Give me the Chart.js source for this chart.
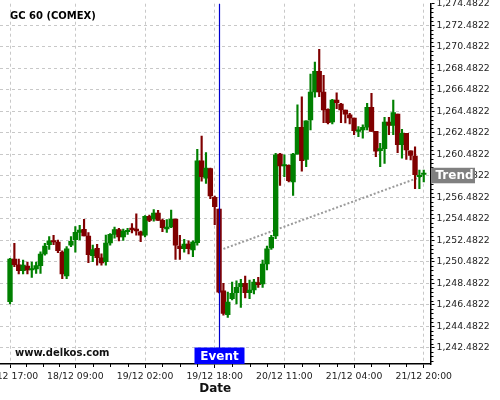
<!DOCTYPE html>
<html>
<head>
<meta charset="utf-8">
<script src="https://cdn.jsdelivr.net/npm/chart.js@4.4.1/dist/chart.umd.min.js"></script>
<style>
  html, body { margin: 0; padding: 0; background: #fff; }
  #wrap { width: 500px; height: 400px; }
</style>
</head>
<body>
<div id="wrap"><canvas id="chart" width="500" height="400"></canvas></div>
<script>
// ---- data: hourly candles, GC 60 (COMEX) ----
const opens = [
  1246.77, 1250.74, 1250.21, 1249.65, 1250.09, 1249.72, 1249.81, 1250.12, 1251.21, 1252.07,
  1252.44, 1252.32, 1251.39, 1249.16, 1252.02, 1252.54, 1253.22, 1253.50, 1252.88, 1251.05,
  1251.74, 1250.86, 1250.49, 1252.23, 1253.04, 1253.47, 1252.79, 1253.28, 1253.60, 1253.53,
  1253.28, 1252.97, 1254.71, 1254.46, 1255.02, 1254.34, 1253.53, 1253.72, 1254.46, 1251.95,
  1251.70, 1252.14, 1251.58, 1252.26, 1259.88, 1258.27, 1259.14, 1256.48, 1255.39, 1247.79,
  1245.56, 1247.05, 1247.61, 1248.17, 1248.48, 1247.61, 1247.86, 1248.54, 1248.42, 1250.28,
  1251.77, 1252.88, 1260.50, 1259.39, 1259.45, 1257.90, 1260.50, 1262.99, 1260.01, 1263.67,
  1266.27, 1268.19, 1266.27, 1264.66, 1263.48, 1265.53, 1265.15, 1264.60, 1264.16, 1263.85,
  1262.61, 1262.74, 1262.99, 1264.85, 1262.61, 1260.81, 1261.00, 1263.48, 1263.17, 1264.22,
  1261.37, 1262.43, 1260.81, 1260.32, 1258.39, 1258.60
];
const highs = [
  1250.80, 1252.20, 1250.74, 1250.65, 1250.46, 1250.46, 1250.46, 1251.42, 1252.20, 1252.82,
  1252.95, 1252.51, 1251.50, 1251.89, 1252.82, 1253.75, 1253.88, 1254.43, 1253.19, 1252.04,
  1252.11, 1251.23, 1252.97, 1253.10, 1253.72, 1253.60, 1253.53, 1253.60, 1254.03, 1254.95,
  1253.35, 1254.77, 1254.83, 1255.33, 1255.27, 1254.46, 1254.40, 1255.30, 1254.46, 1252.95,
  1252.57, 1252.44, 1252.44, 1260.94, 1262.18, 1260.63, 1259.20, 1256.60, 1255.39, 1248.48,
  1247.67, 1248.60, 1248.72, 1248.85, 1249.16, 1248.79, 1248.85, 1249.04, 1250.65, 1251.95,
  1252.95, 1260.57, 1260.57, 1260.44, 1259.50, 1260.57, 1265.09, 1265.83, 1263.60, 1267.94,
  1269.06, 1270.24, 1267.82, 1264.70, 1265.59, 1266.20, 1265.22, 1264.60, 1264.29, 1263.85,
  1263.05, 1263.23, 1265.22, 1266.15, 1262.61, 1261.50, 1263.92, 1263.92, 1265.53, 1264.22,
  1262.80, 1262.43, 1260.81, 1261.18, 1259.02, 1259.02
];
const lows = [
  1246.56, 1250.03, 1249.35, 1249.35, 1249.35, 1249.04, 1249.41, 1249.41, 1251.11, 1251.64,
  1252.07, 1251.33, 1248.91, 1248.91, 1251.89, 1251.39, 1252.51, 1252.88, 1250.40, 1250.49,
  1250.18, 1250.18, 1250.18, 1252.04, 1252.67, 1252.42, 1252.48, 1253.04, 1253.16, 1252.97,
  1252.35, 1252.79, 1254.21, 1254.27, 1254.34, 1253.28, 1253.22, 1253.65, 1250.71, 1250.71,
  1251.39, 1251.21, 1250.96, 1252.02, 1257.97, 1257.78, 1256.35, 1253.93, 1247.60, 1245.51,
  1245.32, 1246.93, 1246.56, 1246.25, 1247.12, 1247.05, 1247.49, 1248.11, 1248.11, 1249.72,
  1251.64, 1252.63, 1257.59, 1258.40, 1257.90, 1256.66, 1260.50, 1258.90, 1259.32, 1262.74,
  1265.78, 1265.83, 1263.42, 1263.30, 1263.30, 1264.72, 1263.42, 1263.40, 1263.30, 1262.30,
  1262.11, 1261.99, 1262.74, 1262.61, 1260.25, 1259.32, 1259.64, 1262.30, 1262.30, 1260.63,
  1260.13, 1260.01, 1259.95, 1257.28, 1257.28, 1257.90
];
const closes = [
  1250.74, 1250.21, 1249.65, 1250.18, 1249.72, 1249.86, 1250.12, 1251.21, 1251.95, 1252.44,
  1252.32, 1251.51, 1249.35, 1251.70, 1252.39, 1253.22, 1253.44, 1252.88, 1251.14, 1251.61,
  1250.86, 1250.37, 1252.23, 1253.04, 1253.47, 1252.79, 1253.35, 1253.41, 1253.47, 1253.35,
  1252.97, 1254.71, 1254.34, 1255.02, 1254.34, 1253.65, 1253.72, 1254.46, 1252.02, 1251.70,
  1252.14, 1251.70, 1252.32, 1259.88, 1258.39, 1259.20, 1256.60, 1255.61, 1247.67, 1245.69,
  1246.74, 1247.55, 1248.11, 1248.48, 1247.61, 1247.86, 1248.60, 1248.35, 1250.28, 1251.70,
  1252.76, 1260.44, 1259.39, 1259.45, 1258.02, 1260.50, 1262.99, 1259.88, 1263.60, 1266.27,
  1268.19, 1266.27, 1264.60, 1263.42, 1265.53, 1265.27, 1264.60, 1264.22, 1263.85, 1262.67,
  1262.74, 1262.99, 1264.85, 1262.61, 1260.76, 1261.00, 1263.48, 1263.17, 1264.35, 1261.37,
  1262.43, 1260.88, 1260.38, 1258.58, 1258.52, 1258.70
];

// x tick positions (candle index) and their labels
const tickIdx = [0, 15, 31, 47, 63, 79, 95];
const tickLabels = ['17/12 17:00', '18/12 09:00', '19/12 02:00', '19/12 18:00',
                    '20/12 11:00', '21/12 04:00', '21/12 20:00'];
const yTicks = [1242.4822, 1244.4822, 1246.4822, 1248.4822, 1250.4822, 1252.4822, 1254.4822,
                1256.4822, 1258.4822, 1260.4822, 1262.4822, 1264.4822, 1266.4822, 1268.4822,
                1270.4822, 1272.4822, 1274.4822];

const eventIdx = 48;
const trendIdx = [49, 95];
const trendVals = [1251.68, 1258.4822];

// ---- styles ----
const UP = '#008000';
const DOWN = '#800000';
const FONT = '"DejaVu Sans", Verdana, sans-serif';
const candleColor = closes.map((c, i) => (c >= opens[i] ? UP : DOWN));

const fmt = v => v.toLocaleString('en-US', { minimumFractionDigits: 4, maximumFractionDigits: 4 });

// title, watermark, event marker, trend tag, minor ticks
const overlay = {
  id: 'overlay',
  afterDraw(chart) {
    const { ctx, chartArea: a, scales: { x, y } } = chart;
    ctx.save();

    // minor ticks on y
    const step = (yTicks[1] - yTicks[0]) / 5;
    ctx.strokeStyle = '#000';
    ctx.lineWidth = 1;
    ctx.beginPath();
    for (let k = -4; k <= (yTicks.length - 1) * 5; k++) {
      if (k % 5 === 0) continue;
      const v = yTicks[0] + k * step;
      if (v < y.min || v > y.max) continue;
      const py = Math.round(y.getPixelForValue(v)) + 0.5;
      ctx.moveTo(a.right, py);
      ctx.lineTo(a.right + 3, py);
    }
    // minor ticks on x (quarters between labels)
    for (let i = 0; i < tickIdx.length - 1; i++) {
      for (let q = 1; q < 4; q++) {
        const v = tickIdx[i] + (tickIdx[i + 1] - tickIdx[i]) * q / 4;
        const px = Math.round(x.getPixelForValue(v)) + 0.5;
        ctx.moveTo(px, a.bottom);
        ctx.lineTo(px, a.bottom + 3);
      }
    }
    ctx.stroke();

    // event line + tag
    const ex = Math.round(x.getPixelForValue(eventIdx)) + 0.5;
    ctx.strokeStyle = '#0000cc';
    ctx.lineWidth = 1.2;
    ctx.beginPath();
    ctx.moveTo(ex, a.top);
    ctx.lineTo(ex, a.bottom);
    ctx.stroke();
    ctx.fillStyle = '#0000ff';
    ctx.fillRect(ex - 25, a.bottom - 16.5, 50, 16.5);
    ctx.fillStyle = '#fff';
    ctx.font = 'bold 12px ' + FONT;
    ctx.textAlign = 'center';
    ctx.textBaseline = 'middle';
    ctx.fillText('Event', ex, a.bottom - 7.5);

    // trend tag on the right axis
    const ty = y.getPixelForValue(trendVals[1]);
    ctx.fillStyle = '#808080';
    ctx.fillRect(a.right + 0.5, ty - 8, 44, 15.5);
    ctx.fillStyle = '#fff';
    ctx.textAlign = 'left';
    ctx.fillText('Trend', a.right + 5, ty);

    // title + watermark
    ctx.fillStyle = '#000';
    ctx.font = 'bold 10px ' + FONT;
    ctx.fillText('GC 60 (COMEX)', 10, 16);
    ctx.fillStyle = '#111';
    ctx.fillText('www.delkos.com', 15, 353.5);

    ctx.restore();
  }
};

new Chart(document.getElementById('chart'), {
  type: 'bar',
  data: {
    datasets: [
      {
        label: 'body',
        data: opens.map((o, i) => ({ x: i, y: [o, closes[i]] })),
        backgroundColor: candleColor,
        barThickness: 4.7,
        minBarLength: 1.5,
        grouped: false,
        order: 0,
      },
      {
        label: 'wick',
        data: lows.map((l, i) => ({ x: i, y: [l, highs[i]] })),
        backgroundColor: candleColor,
        barThickness: 1.5,
        grouped: false,
        order: 1,
      },
      {
        type: 'line',
        label: 'Trend',
        data: trendIdx.map((v, i) => ({ x: v, y: trendVals[i] })),
        borderColor: '#9a9a9a',
        borderWidth: 2,
        borderDash: [2, 2],
        pointRadius: 0,
        order: 2,
      },
    ],
  },
  options: {
    responsive: false,
    animation: false,
    layout: { padding: { top: 3.7, left: 0, right: 0, bottom: 0 } },
    plugins: { legend: { display: false }, tooltip: { enabled: false } },
    scales: {
      x: {
        type: 'linear',
        min: -2.3,
        max: 96.55,
        offset: false,
        grid: {
          offset: false,
          color: '#c8c8c8',
          tickColor: '#000',
          tickLength: 4,
        },
        border: { color: '#000', width: 1.5, dash: [3, 3] },
        afterBuildTicks: s => { s.ticks = tickIdx.map(v => ({ value: v })); },
        afterFit: s => { s.height = 36; s.paddingLeft = 0; s.paddingRight = 0; },
        ticks: {
          autoSkip: false,
          maxRotation: 0,
          padding: 3,
          color: '#222',
          font: { family: FONT, size: 9.3 },
          callback: v => {
            const k = tickIdx.indexOf(v);
            return k >= 0 ? tickLabels[k] : '';
          },
        },
        title: {
          display: true,
          text: 'Date',
          color: '#111',
          font: { family: FONT, size: 12, weight: 'bold' },
          padding: { top: 0, bottom: 4 },
        },
      },
      y: {
        position: 'right',
        min: 1240.98,
        max: 1274.4822,
        grid: {
          color: ctx => (ctx.tick && ctx.tick.value === 1274.4822 ? 'rgba(0,0,0,0)' : '#c8c8c8'),
          tickColor: '#000',
          tickLength: 4,
        },
        border: { color: '#000', width: 1.5, dash: [3, 3] },
        afterBuildTicks: s => { s.ticks = yTicks.map(v => ({ value: v })); },
        afterFit: s => { s.width = 69.5; s.paddingTop = 0; s.paddingBottom = 0; },
        ticks: {
          padding: 2,
          color: '#222',
          font: { family: FONT, size: 9.3 },
          callback: v => fmt(v),
        },
      },
    },
  },
  plugins: [overlay],
});
</script>
</body>
</html>
